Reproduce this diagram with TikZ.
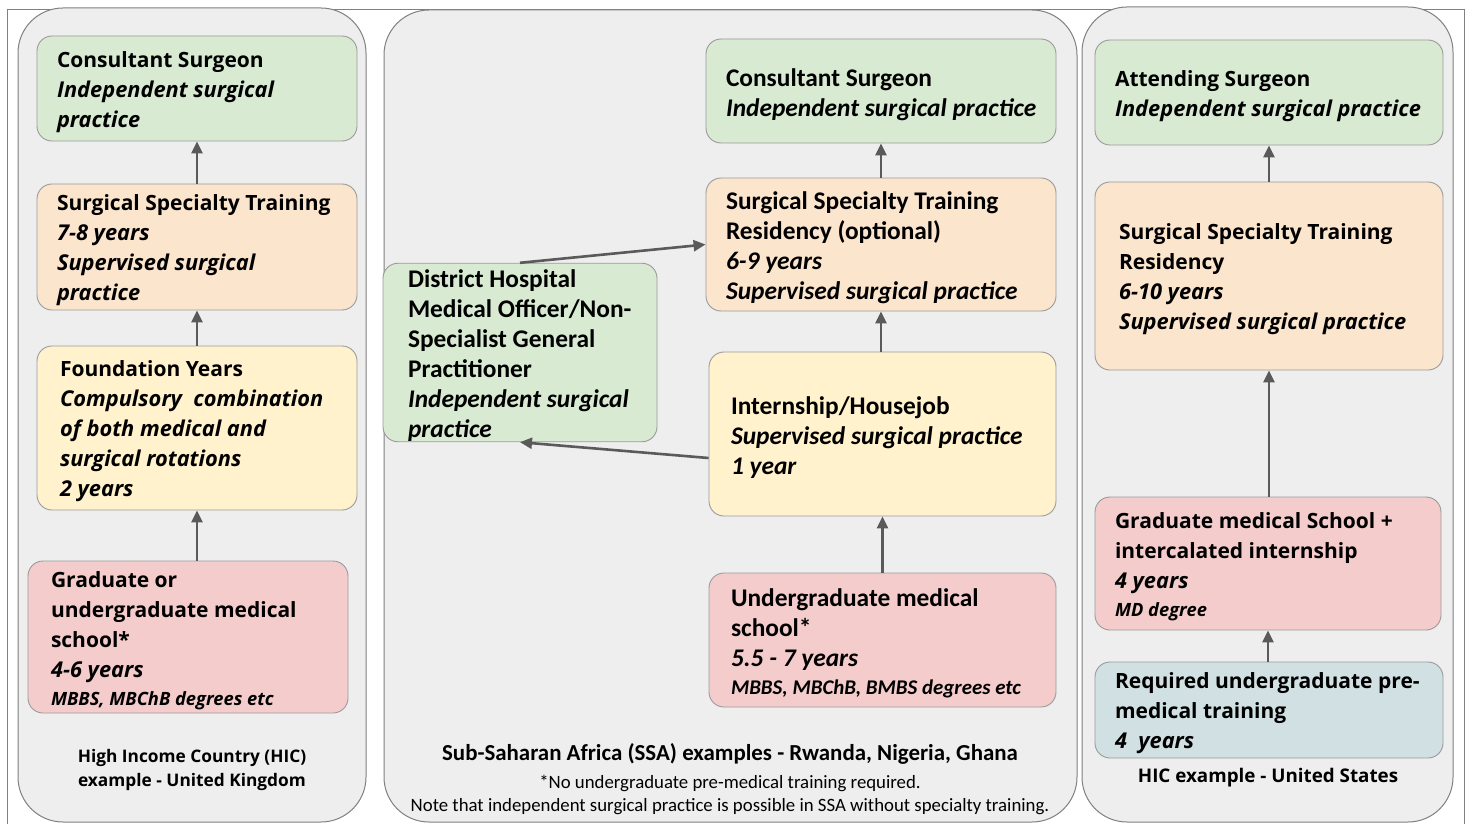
\documentclass[tikz,border=0pt]{standalone}
\usepackage{fontspec}
\setmainfont{Open Sans}
\newfontfamily\calfont{Carlito}
\usetikzlibrary{arrows.meta,calc}
\definecolor{colfill}{HTML}{EEEEEE}
\definecolor{colline}{HTML}{808080}
\definecolor{boxline}{HTML}{9A9A9A}
\definecolor{cgreen}{HTML}{D9EAD3}
\definecolor{corange}{HTML}{FCE5CD}
\definecolor{cyellow}{HTML}{FFF2CC}
\definecolor{cpink}{HTML}{F4CCCC}
\definecolor{cblue}{HTML}{D0E0E3}
\definecolor{arr}{HTML}{5A5A5A}
\newcommand\nb[1]{\mbox{#1}}
\newcommand\lft{\fontsize{21}{30}\selectfont\bfseries}
\newcommand\li{\fontsize{21.8}{30}\selectfont\itshape}
\newcommand\lsm{\fontsize{18.3}{30}\selectfont\itshape}
\newcommand\mft{\calfont\fontsize{25.4}{30}\selectfont\bfseries}
\newcommand\msm{\fontsize{20.9}{30}\selectfont\itshape}
\tikzset{
  col/.style={draw=colline, fill=colfill, rounded corners=45pt, line width=1pt},
  box/.style={draw=boxline, fill=#1, rounded corners=15pt, line width=0.9pt,
    align=flush left, inner xsep=20pt, inner ysep=0pt, anchor=center},
  lbox/.style={box=#1, font=\lft, execute at begin node={\rule{0pt}{23pt}}},
  mbox/.style={box=#1, font=\mft, execute at begin node={\rule{0pt}{24.5pt}}},
  bw/.style 2 args={minimum width=#1, minimum height=#2, text width=#1-40pt},
  link/.style={draw=arr, line width=2.6pt, -{Triangle[length=12pt,width=11pt]}},
  lab/.style={align=center, inner sep=0pt}
}
\begin{document}
\begin{tikzpicture}[x=1pt,y=-1pt]
\useasboundingbox (0,0) rectangle (1473,824);
\draw[colline, line width=0.8pt] (7,870) -- (7,9) -- (1464,9) -- (1464,870);
\draw[col] (18,8) rectangle (366,822);
\draw[col] (384,10) rectangle (1077,822);
\draw[col] (1082,7) rectangle (1453,822);

% left column
\node[lbox=cgreen, bw={320pt}{105pt}] (lcons) at (197,88.5)
  {\nb{Consultant Surgeon}\\ \li\nb{Independent surgical}\\ \li practice};
\node[lbox=corange, bw={320pt}{126pt}] (lsst) at (197,247)
  {\nb{Surgical Specialty Training}\\ \li\nb{7-8 years}\\ \li\nb{Supervised surgical}\\ \li practice};
\node[lbox=cyellow, bw={320pt}{164pt}, inner xsep=23pt, text width=274pt] (lfound) at (197,428)
  {\nb{Foundation Years}\\ \li\nb{Compulsory\ \ combination}\\ \li\nb{of both medical and}\\ \li\nb{surgical rotations}\\ \li\nb{2 years}};
\node[lbox=cpink, bw={320pt}{152pt}, inner xsep=23pt, text width=274pt] (lgrad) at (188,637)
  {\nb{Graduate or}\\ \nb{undergraduate medical}\\ school*\\ \li\nb{4-6 years}\\[-2pt] \lsm\nb{MBBS, MBChB degrees etc}};
\node[lab, font=\fontsize{17.3}{24}\selectfont\bfseries] (llab) at (192,770)
  {High Income Country (HIC)\\example - United Kingdom};
\draw[link] (lsst) -- (lcons);
\draw[link] (lfound) -- (lsst);
\draw[link] (lgrad.north -| lfound.south) -- (lfound);

% middle column
\node[mbox=cgreen, bw={350pt}{104pt}] (mcons) at (881,91)
  {\nb{Consultant Surgeon}\\ \itshape\nb{Independent surgical practice}};
\node[mbox=corange, bw={350pt}{133pt}] (msst) at (881,244.5)
  {\nb{Surgical Specialty Training}\\ \nb{Residency (optional)}\\ \itshape\nb{6-9 years}\\ \itshape\nb{Supervised surgical practice}};
\node[mbox=cgreen, bw={274pt}{177pt}, inner xsep=25pt, text width=224pt] (mdist) at (520,352.5)
  {\nb{District Hospital}\\ \nb{Medical Officer/Non-}\\ \nb{Specialist General}\\ \nb{Practitioner}\\ \itshape\nb{Independent surgical}\\ \itshape practice};
\node[mbox=cyellow, bw={347pt}{164pt}, inner xsep=22pt, text width=303pt] (mintern) at (882.5,434)
  {\nb{Internship/Housejob}\\ \itshape\nb{Supervised surgical practice}\\ \itshape\nb{1 year}};
\node[mbox=cpink, bw={347pt}{134pt}, inner xsep=22pt, text width=303pt] (mund) at (882.5,640)
  {\nb{Undergraduate medical}\\ school*\\ \itshape\nb{5.5 - 7 years}\\[-2pt] \msm\nb{MBBS, MBChB, BMBS degrees etc}};
\node[lab, font=\calfont\fontsize{22.9}{24}\selectfont\bfseries] (mlab) at (730,754)
  {Sub-Saharan Africa (SSA) examples - Rwanda, Nigeria, Ghana};
\node[lab, font=\calfont\fontsize{18.8}{23}\selectfont] (mnote) at (730,795)
  {*No undergraduate pre-medical training required.\\Note that independent surgical practice is possible in SSA without specialty training.};
\draw[link] (msst.north) -- (mcons.south);
\draw[link] (mintern.north -| msst.south) -- (msst.south);
\draw[link] (mund.north) -- (mund.north |- mintern.south);
\draw[link] (mdist.north) -- (msst.west);
\draw[link] ([yshift=-24pt]mintern.west) -- (mdist.south);

% right column
\node[lbox=cgreen, bw={348pt}{105pt}] (rcons) at (1269,92.5)
  {\nb{Attending Surgeon}\\ \li\nb{Independent surgical practice}};
\node[lbox=corange, bw={348pt}{188pt}, inner xsep=24pt, text width=300pt] (rsst) at (1269,276)
  {\nb{Surgical Specialty Training}\\ Residency\\ \li\nb{6-10 years}\\ \li\nb{Supervised surgical practice}};
\node[lbox=cpink, bw={346pt}{133pt}] (rgrad) at (1268,563.5)
  {\nb{Graduate medical School +}\\ \nb{intercalated internship}\\ \li\nb{4 years}\\[-2pt] \lsm\nb{MD degree}};
\node[lbox=cblue, bw={348pt}{96pt}] (rpre) at (1269,710)
  {\nb{Required undergraduate pre-}\\ \nb{medical training}\\ \li\nb{4\ \ years}};
\node[lab, font=\fontsize{18.8}{24}\selectfont\bfseries] (rlab) at (1268,778)
  {HIC example - United States};
\draw[link] (rsst.north) -- (rcons.south);
\draw[link] (rgrad.north -| rsst.south) -- (rsst.south);
\draw[link] (rpre.north -| rgrad.south) -- (rgrad.south);
\end{tikzpicture}
\end{document}
